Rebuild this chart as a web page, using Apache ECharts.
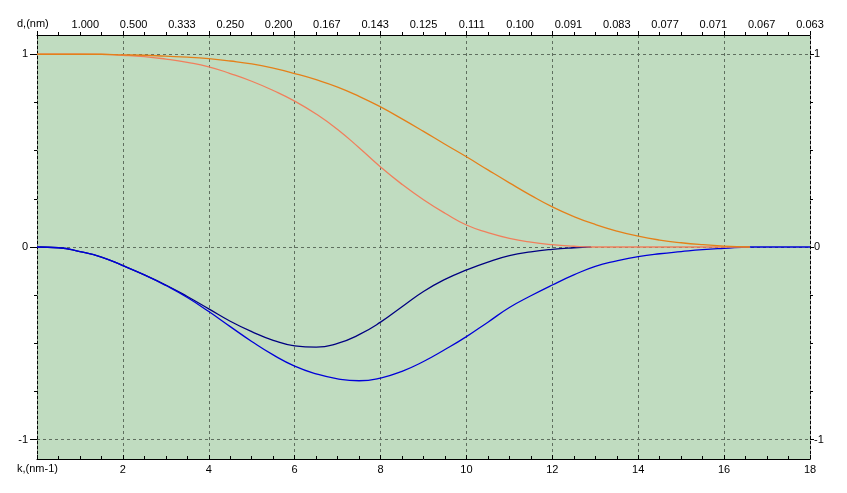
<!DOCTYPE html>
<html>
<head>
<meta charset="utf-8">
<script src="https://cdn.jsdelivr.net/npm/echarts@6/dist/echarts.min.js"></script>
<style>
html,body{margin:0;padding:0;background:#fff;}
#chart{width:847px;height:493px;}
</style>
</head>
<body>
<div id="chart"></div>
<script>
// ---- data ----
const kOrange = [0, 1, 1.5, 2, 2.5, 3, 3.5, 4, 4.5, 5, 5.5, 6, 6.5, 7, 7.5, 8, 8.5, 9, 9.5, 10, 10.5, 11, 11.5, 12, 12.5, 13, 13.5, 14, 14.5, 15, 15.5, 16, 16.6];
const vOrange = [1, 1, 1, 0.997, 0.995, 0.99, 0.985, 0.977, 0.965, 0.95, 0.928, 0.90, 0.868, 0.83, 0.782, 0.727, 0.665, 0.60, 0.533, 0.468, 0.400, 0.333, 0.268, 0.208, 0.158, 0.117, 0.083, 0.056, 0.036, 0.022, 0.012, 0.005, 0];

const kSalmon = [0, 1, 1.5, 2, 2.5, 3, 3.5, 4, 4.5, 5, 5.5, 6, 6.5, 7, 7.5, 8, 8.5, 9, 9.5, 10, 10.5, 11, 11.5, 12, 12.5, 12.9, 16.6];
const vSalmon = [1, 1, 0.999, 0.995, 0.988, 0.975, 0.958, 0.935, 0.90, 0.86, 0.812, 0.757, 0.69, 0.61, 0.515, 0.415, 0.325, 0.245, 0.175, 0.114, 0.075, 0.045, 0.025, 0.012, 0.004, 0, 0];

const kNavy = [0, 0.5, 1, 1.5, 2, 2.5, 3, 3.5, 4, 4.5, 5, 5.5, 6, 6.5, 7, 7.5, 8, 8.5, 9, 9.5, 10, 10.5, 11, 11.5, 12, 12.5, 12.9];
const vNavy = [0, -0.004, -0.024, -0.052, -0.097, -0.145, -0.197, -0.257, -0.321, -0.385, -0.439, -0.484, -0.513, -0.52, -0.5, -0.455, -0.39, -0.31, -0.231, -0.168, -0.119, -0.078, -0.045, -0.025, -0.012, -0.004, 0];

const kBlue = [0, 0.5, 1, 1.5, 2, 2.5, 3, 3.5, 4, 4.5, 5, 5.5, 6, 6.5, 7, 7.5, 8, 8.5, 9, 9.5, 10, 10.5, 11, 11.5, 12, 12.5, 13, 13.5, 14, 14.5, 15, 15.5, 16, 16.6, 18];
const vBlue = [0, -0.004, -0.024, -0.052, -0.097, -0.145, -0.2, -0.262, -0.335, -0.413, -0.49, -0.56, -0.618, -0.658, -0.684, -0.694, -0.68, -0.645, -0.594, -0.532, -0.465, -0.39, -0.314, -0.253, -0.197, -0.145, -0.10, -0.072, -0.05, -0.035, -0.024, -0.014, -0.007, 0, 0];

const bottomTickLabels = ['', '2', '4', '6', '8', '10', '12', '14', '16', '18'];
const topTickLabels = ['1.000', '0.500', '0.333', '0.250', '0.200', '0.167', '0.143', '0.125', '0.111', '0.100', '0.091', '0.083', '0.077', '0.071', '0.067', '0.063'];
const yTickLabels = ['-1', '0', '1'];

// ---- chart ----
const zip = (ks, vs) => ks.map((k, i) => [k, vs[i]]);
const FONT = '"Liberation Sans", Arial, sans-serif';
const gridLine = { show: true, lineStyle: { color: '#5f6f5f', type: [3, 3], width: 1 } };
const black = { color: '#000', width: 1 };

const chart = echarts.init(document.getElementById('chart'), null, { renderer: 'canvas' });

const option = {
  animation: false,
  backgroundColor: '#fff',
  textStyle: { fontFamily: FONT },
  grid: [
    { left: 37, right: 37, top: 35, bottom: 34, show: true, backgroundColor: '#c0dcc0', borderWidth: 0, containLabel: false },
    { left: 37, right: 37, top: 54.27, bottom: 53.27, show: false, containLabel: false }
  ],
  xAxis: [
    { // bottom axis with labels
      type: 'value', gridIndex: 0, position: 'bottom', min: 0, max: 18, interval: 2,
      axisLine: { show: true, onZero: false, lineStyle: black },
      axisTick: { show: true, inside: true, length: 4, lineStyle: black },
      minorTick: { show: true, splitNumber: 4, length: 3, lineStyle: black },
      axisLabel: { show: true, margin: 5, color: '#000', fontSize: 11, fontFamily: FONT,
        showMinLabel: true, showMaxLabel: true,
        formatter: v => bottomTickLabels[Math.round(v / 2)] },
      splitLine: Object.assign({ showMinLine: false, showMaxLine: false }, gridLine)
    },
    { // top axis line + ticks
      type: 'value', gridIndex: 0, position: 'top', min: 0, max: 18, interval: 2,
      axisLine: { show: true, onZero: false, lineStyle: black },
      axisTick: { show: true, inside: false, length: 4, lineStyle: black },
      minorTick: { show: true, splitNumber: 4, length: 3, lineStyle: black },
      axisLabel: { show: false },
      splitLine: { show: false }
    },
    { // top labels d (nm)
      type: 'value', gridIndex: 0, position: 'top', min: 0, max: 16, interval: 1,
      axisLine: { show: false, onZero: false },
      axisTick: { show: false },
      axisLabel: { show: true, margin: 5, color: '#000', fontSize: 11, fontFamily: FONT,
        showMinLabel: true, showMaxLabel: true,
        formatter: v => (v === 0 ? '' : topTickLabels[Math.round(v) - 1]) },
      splitLine: { show: false }
    },
    { type: 'value', gridIndex: 1, min: 0, max: 18, show: false, axisLine: { onZero: false } }
  ],
  yAxis: [
    { type: 'value', gridIndex: 0, position: 'left', min: -1.1, max: 1.1,
      axisLine: { show: true, onZero: false, lineStyle: { color: '#000', width: 1, type: [3, 2] } },
      axisTick: { show: false }, axisLabel: { show: false }, splitLine: { show: false } },
    { type: 'value', gridIndex: 0, position: 'right', min: -1.1, max: 1.1,
      axisLine: { show: true, onZero: false, lineStyle: { color: '#000', width: 1, type: [3, 2] } },
      axisTick: { show: false }, axisLabel: { show: false }, splitLine: { show: false } },
    { type: 'value', gridIndex: 1, position: 'left', min: -1, max: 1, interval: 1,
      axisLine: { show: false, onZero: false },
      axisTick: { show: true, length: 7, lineStyle: black },
      minorTick: { show: true, splitNumber: 4, length: 3, lineStyle: black },
      axisLabel: { show: true, margin: 9, color: '#000', fontSize: 11, fontFamily: FONT,
        formatter: v => yTickLabels[Math.round(v) + 1] },
      splitLine: gridLine },
    { type: 'value', gridIndex: 1, position: 'right', min: -1, max: 1, interval: 1,
      axisLine: { show: false, onZero: false },
      axisTick: { show: true, length: 4, lineStyle: black },
      minorTick: { show: true, splitNumber: 4, length: 3, lineStyle: black },
      axisLabel: { show: true, margin: 4, color: '#000', fontSize: 11, fontFamily: FONT,
        formatter: v => yTickLabels[Math.round(v) + 1] },
      splitLine: { show: false } }
  ],
  graphic: [
    { type: 'text', left: 17, top: 18, style: { text: 'd,(nm)', fill: '#000', font: '11px ' + FONT } },
    { type: 'text', left: 17, top: 463, style: { text: 'k,(nm-1)', fill: '#000', font: '11px ' + FONT } }
  ],
  series: [
    { type: 'line', xAxisIndex: 0, yAxisIndex: 0, data: zip(kNavy, vNavy), showSymbol: false, symbol: 'none',
      smooth: 0.5, lineStyle: { color: '#000080', width: 1.3 }, z: 2 },
    { type: 'line', xAxisIndex: 0, yAxisIndex: 0, data: zip(kBlue, vBlue), showSymbol: false, symbol: 'none',
      smooth: 0.5, lineStyle: { color: '#0000d8', width: 1.3 }, z: 3 },
    { type: 'line', xAxisIndex: 0, yAxisIndex: 0, data: zip(kSalmon, vSalmon), showSymbol: false, symbol: 'none',
      smooth: 0.5, lineStyle: { color: '#f07f5c', width: 1.3 }, z: 4 },
    { type: 'line', xAxisIndex: 0, yAxisIndex: 0, data: zip(kOrange, vOrange), showSymbol: false, symbol: 'none',
      smooth: 0.5, lineStyle: { color: '#e4801a', width: 1.3 }, z: 5 }
  ]
};
chart.setOption(option);
</script>
</body>
</html>
